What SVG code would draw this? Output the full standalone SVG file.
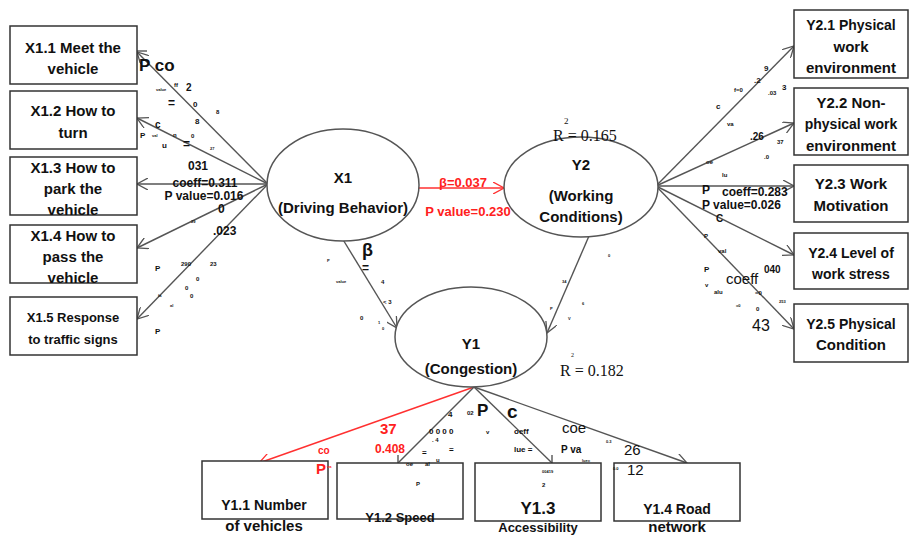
<svg xmlns="http://www.w3.org/2000/svg" width="909" height="535" viewBox="0 0 909 535">
  <style>
    .box { fill: #fff; stroke: #333; stroke-width: 1.5; }
    .ell { fill: #fff; stroke: #555; stroke-width: 1.5; }
    .ln { stroke: #555; stroke-width: 1.4; fill: none; }
    .rd { stroke: #ff3030; stroke-width: 1.4; fill: none; }
    text { font-family: "Liberation Sans", Arial, sans-serif; font-weight: bold; fill: #111; }
    .c { text-anchor: middle; }
    .t15 { font-size: 15px; }
    .t14 { font-size: 14px; }
    .t13 { font-size: 13px; }
    .t12 { font-size: 12px; }
    .t10 { font-size: 10px; }
    .t8 { font-size: 8px; }
    .t6 { font-size: 6px; }
    .t4 { font-size: 4px; }
    .red { fill: #ff2020; }
    .ser { font-family: "Liberation Serif", "Times New Roman", serif; font-weight: normal; font-size: 16px; }
  </style>
  <defs>
    <marker id="arr" viewBox="0 0 12 12" refX="11" refY="6" markerWidth="12" markerHeight="12" markerUnits="userSpaceOnUse" orient="auto">
      <path d="M0,0 L11,6 L0,12" fill="none" stroke="#555" stroke-width="1.3"/>
    </marker>
    <marker id="arrR" viewBox="0 0 12 12" refX="11" refY="6" markerWidth="12" markerHeight="12" markerUnits="userSpaceOnUse" orient="auto">
      <path d="M0,0 L11,6 L0,12" fill="none" stroke="#ff3030" stroke-width="1.3"/>
    </marker>
  </defs>

  <!-- connectors -->
  <g id="connectors">
    <line class="ln" x1="268" y1="184" x2="137" y2="52" marker-end="url(#arr)"/>
    <line class="ln" x1="137" y1="51" x2="147" y2="51"/>
    <line class="ln" x1="268" y1="184" x2="137" y2="118" marker-end="url(#arr)"/>
    <line class="ln" x1="268" y1="184" x2="137" y2="184" marker-end="url(#arr)"/>
    <line class="ln" x1="268" y1="184" x2="137" y2="248" marker-end="url(#arr)"/>
    <line class="ln" x1="268" y1="184" x2="137" y2="319" marker-end="url(#arr)"/>

    <line class="ln" x1="656" y1="186" x2="794" y2="46" marker-end="url(#arr)"/>
    <line class="ln" x1="656" y1="186" x2="794" y2="123" marker-end="url(#arr)"/>
    <line class="ln" x1="656" y1="186" x2="794" y2="186" marker-end="url(#arr)"/>
    <line class="ln" x1="656" y1="186" x2="794" y2="255" marker-end="url(#arr)"/>
    <line class="ln" x1="656" y1="186" x2="794" y2="329" marker-end="url(#arr)"/>

    <line class="rd" x1="419" y1="188" x2="504" y2="188" marker-end="url(#arrR)"/>
    <line class="ln" x1="342" y1="238" x2="397" y2="328" marker-end="url(#arr)"/>
    <line class="ln" x1="589" y1="236" x2="547" y2="333" marker-end="url(#arr)"/>

    <line class="rd" x1="474" y1="387" x2="259" y2="463" marker-end="url(#arrR)"/>
    <line class="ln" x1="474" y1="387" x2="398" y2="463"/>
    <line class="ln" x1="398" y1="455" x2="398" y2="463"/>
    <line class="ln" x1="474" y1="387" x2="552" y2="463"/>
    <line class="ln" x1="552" y1="455" x2="552" y2="463"/>
    <line class="ln" x1="474" y1="387" x2="687" y2="463" marker-end="url(#arr)"/>
  </g>

  <!-- latent variables -->
  <g id="X1">
    <ellipse class="ell" cx="343" cy="185" rx="76" ry="56"/>
    <text class="c t15" x="343" y="183">X1</text>
    <text class="c t15" x="343" y="213">(Driving Behavior)</text>
  </g>
  <g id="Y2">
    <ellipse class="ell" cx="581" cy="187" rx="77" ry="50"/>
    <text class="c t15" x="581" y="170">Y2</text>
    <text class="c t15" x="581" y="201">(Working</text>
    <text class="c t15" x="581" y="222">Conditions)</text>
  </g>
  <g id="Y1">
    <ellipse class="ell" cx="471" cy="337" rx="76" ry="50"/>
    <text class="c t15" x="471" y="349">Y1</text>
    <text class="c t15" x="471" y="374">(Congestion)</text>
  </g>

  <!-- X1 indicators -->
  <g id="X1_1">
    <rect class="box" x="10" y="26" width="127" height="58"/>
    <text class="c t15" x="73" y="53">X1.1 Meet the</text>
    <text class="c t15" x="73" y="74">vehicle</text>
  </g>
  <g id="X1_2">
    <rect class="box" x="10" y="91" width="127" height="58"/>
    <text class="c t15" x="73" y="116">X1.2 How to</text>
    <text class="c t15" x="73" y="138">turn</text>
  </g>
  <g id="X1_3">
    <rect class="box" x="10" y="157" width="127" height="58"/>
    <text class="c t15" x="73" y="173">X1.3 How to</text>
    <text class="c t15" x="73" y="194">park the</text>
    <text class="c t15" x="73" y="215">vehicle</text>
  </g>
  <g id="X1_4">
    <rect class="box" x="10" y="225" width="127" height="58"/>
    <text class="c t15" x="73" y="241">X1.4 How to</text>
    <text class="c t15" x="73" y="262">pass the</text>
    <text class="c t15" x="73" y="283">vehicle</text>
  </g>
  <g id="X1_5">
    <rect class="box" x="10" y="297" width="127" height="58"/>
    <text class="c t13" x="73" y="322">X1.5 Response</text>
    <text class="c t13" x="73" y="344">to traffic signs</text>
  </g>

  <!-- Y2 indicators -->
  <g id="Y2_1">
    <rect class="box" x="794" y="10" width="114" height="68"/>
    <text class="c t14" x="851" y="30">Y2.1 Physical</text>
    <text class="c t15" x="851" y="52">work</text>
    <text class="c t15" x="851" y="73">environment</text>
  </g>
  <g id="Y2_2">
    <rect class="box" x="794" y="88" width="114" height="67"/>
    <text class="c t15" x="851" y="108">Y2.2 Non-</text>
    <text class="c t14" x="851" y="129">physical work</text>
    <text class="c t15" x="851" y="151">environment</text>
  </g>
  <g id="Y2_3">
    <rect class="box" x="794" y="165" width="114" height="57"/>
    <text class="c t15" x="851" y="189">Y2.3 Work</text>
    <text class="c t15" x="851" y="211">Motivation</text>
  </g>
  <g id="Y2_4">
    <rect class="box" x="794" y="233" width="114" height="56"/>
    <text class="c t14" x="851" y="258">Y2.4 Level of</text>
    <text class="c t14" x="851" y="279">work stress</text>
  </g>
  <g id="Y2_5">
    <rect class="box" x="794" y="304" width="114" height="58"/>
    <text class="c t14" x="851" y="329">Y2.5 Physical</text>
    <text class="c t15" x="851" y="350">Condition</text>
  </g>

  <!-- Y1 indicators -->
  <g id="Y1_1">
    <rect class="box" x="202" y="461" width="126" height="58"/>
    <text class="c t14" x="264" y="510">Y1.1 Number</text>
    <text class="c t15" x="264" y="531">of vehicles</text>
  </g>
  <g id="Y1_2">
    <rect class="box" x="337" y="463" width="126" height="56"/>
    <text class="c t13" x="400" y="522">Y1.2 Speed</text>
  </g>
  <g id="Y1_3">
    <rect class="box" x="475" y="463" width="126" height="58"/>
    <text class="c" style="font-size:17px" x="538" y="514">Y1.3</text>
    <text class="c t13" x="538" y="532">Accessibility</text>
  </g>
  <g id="Y1_4">
    <rect class="box" x="614" y="463" width="126" height="58"/>
    <text class="c t14" x="677" y="514">Y1.4 Road</text>
    <text class="c t15" x="677" y="532">network</text>
  </g>

  <!-- coefficients and R squared -->
  <g id="labels">
    <text class="c t13 red" x="463" y="187">β=0.037</text>
    <text class="c t13 red" x="468" y="216">P value=0.230</text>

    <text class="ser" x="553" y="141">R = 0.165</text>
    <text class="ser" style="font-size:9px" x="564" y="124">2</text>
    <text class="ser" x="560" y="376">R  = 0.182</text>
    <text class="ser" style="font-size:6px" x="571" y="357">2</text>

    <text class="c t12" x="205" y="187">coeff=0.311</text>
    <text class="c t12" x="204" y="200">P value=0.016</text>
    <text class="c t12" x="198" y="170">031</text>
    <text style="font-size:17px" x="139" y="71">P co</text>
    <text class="t6" x="174" y="87">ff</text>
    <text class="t10" x="186" y="91">2</text>
    <text class="t4" x="156" y="91">value</text>
    <text class="t12" x="168" y="107">=</text>
    <text class="t8" x="193" y="107">0</text>
    <text class="t6" x="216" y="114">8</text>
    <text class="t8" x="195" y="124">8</text>
    <text class="t10" x="155" y="128">c</text>
    <text class="t8" x="140" y="138">P</text>
    <text class="t4" x="152" y="137">val</text>
    <text class="t6" x="173" y="137">n</text>
    <text class="t6" x="191" y="138">0</text>
    <text class="t8" x="162" y="148">u</text>
    <text class="t12" x="183" y="148">=</text>
    <text class="t4" x="210" y="150">27</text>

    <text class="t12" x="218" y="213">0</text>
    <text class="t12" x="213" y="235">.023</text>
    <text class="t4" x="191" y="223">29</text>
    <text class="t8" x="155" y="271">P</text>
    <text class="t6" x="181" y="266">290</text>
    <text class="t6" x="210" y="266">23</text>
    <text class="t6" x="196" y="281">0</text>
    <text class="t6" x="185" y="290">0</text>
    <text class="t6" x="190" y="298">0</text>
    <text class="t4" x="158" y="297">fa</text>
    <text class="t4" x="170" y="307">al</text>
    <text class="t8" x="155" y="334">P</text>

    <text class="t12" x="702" y="194">P</text>
    <text class="t12" x="722" y="196">coeff=0.283</text>
    <text class="t12" x="702" y="209">P value=0.026</text>
    <text class="t10" x="716" y="222">C</text>
    <text class="t6" x="704" y="238">P</text>
    <text class="t6" x="718" y="253">val</text>
    <text class="t10" x="764" y="273">040</text>
    <text class="t8" x="704" y="272">P</text>
    <text class="t6" x="705" y="287">v</text>
    <text style="font-size:15px;font-weight:normal" x="726" y="284">coeff</text>
    <text class="t6" x="714" y="294">alu</text>
    <text class="t6" x="755" y="295">=0</text>
    <text class="t4" x="779" y="303">253</text>
    <text class="t4" x="736" y="307">=0</text>
    <text class="t6" x="756" y="311">0</text>
    <text style="font-size:16px;font-weight:normal" x="752" y="331">43</text>

    <text class="t8" x="764" y="71">9</text>
    <text class="t8" x="754" y="83">.2</text>
    <text class="t8" x="782" y="90">3</text>
    <text class="t6" x="734" y="92">f=0</text>
    <text class="t6" x="768" y="95">.03</text>
    <text class="t8" x="716" y="109">c</text>
    <text class="t6" x="727" y="126">va</text>
    <text class="t10" x="750" y="140">.26</text>
    <text class="t6" x="777" y="144">37</text>
    <text class="t6" x="706" y="164">oe</text>
    <text class="t6" x="764" y="159">.0</text>
    <text class="t6" x="722" y="177">lu</text>

    <text style="font-size:18px" x="362" y="256">β</text>
    <text class="t12" x="362" y="272">=</text>
    <text class="t4" x="327" y="262">P</text>
    <text class="t4" x="336" y="283">value</text>
    <text class="t6" x="381" y="284">4</text>
    <text class="t6" x="383" y="304">&lt; 3</text>
    <text class="t6" x="360" y="320">0</text>
    <text class="t4" x="378" y="324">1</text>
    <text class="t4" x="382" y="330">0</text>

    <text class="t4" x="608" y="257">0</text>
    <text class="t4" x="562" y="283">34</text>
    <text class="t4" x="582" y="305">6</text>
    <text class="t4" x="550" y="310">P</text>
    <text class="t4" x="568" y="320">V</text>

    <text class="t15 red" x="380" y="434">37</text>
    <text class="t10 red" x="318" y="454">co</text>
    <text class="t12 red" x="375" y="453">0.408</text>
    <text class="t15 red" x="316" y="474">P</text>
    <text class="t4 red" x="327" y="468">va</text>

    <text class="t8" x="448" y="417">4</text>
    <text class="t6" x="467" y="415">02</text>
    <text style="font-size:17px" x="477" y="416">P</text>
    <text style="font-size:19px" x="507" y="418">c</text>
    <text class="t8" x="429" y="434">0  0  0  0</text>
    <text class="t6" x="486" y="434">v</text>
    <text class="t6" x="432" y="442">. 4</text>
    <text class="t8" x="422" y="455">=</text>
    <text class="t8" x="449" y="452">=</text>
    <text class="t6" x="436" y="462">u</text>
    <text class="t6" x="406" y="466">oe</text>
    <text class="t6" x="425" y="466">al</text>
    <text class="t6" x="416" y="486">P</text>
    <text class="t8" x="514" y="434">oeff</text>
    <text class="t8" x="514" y="452">lue =</text>
    <text style="font-size:15px;font-weight:normal" x="562" y="433">coe</text>
    <text class="t10" x="561" y="453">P va</text>
    <text class="t4" x="606" y="443">0.3</text>
    <text class="t4" x="582" y="462">lue=</text>
    <text style="font-size:15px;font-weight:normal" x="624" y="455">26</text>
    <text class="t4" x="613" y="470">0.0</text>
    <text style="font-size:15px;font-weight:normal" x="627" y="475">12</text>
    <text class="t4" x="542" y="473">00419</text>
    <text class="t6" x="542" y="487">2</text>
  </g>
</svg>
